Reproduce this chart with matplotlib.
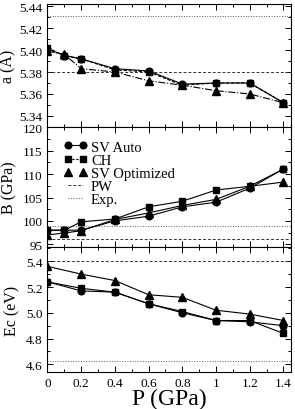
import numpy as np
import matplotlib
matplotlib.use('Agg')
import matplotlib.pyplot as plt
from matplotlib.ticker import MultipleLocator, FormatStrFormatter

plt.rcParams['font.family'] = ['Liberation Serif', 'DejaVu Serif']
plt.rcParams['mathtext.fontset'] = 'stix'

# pressure points
P_full = [0, 0.1, 0.2, 0.4, 0.6, 0.8, 1.0, 1.2, 1.4]
P_ec = [0, 0.2, 0.4, 0.6, 0.8, 1.0, 1.2, 1.4]

# lattice constant a (Angstrom)
a_sv_auto = [5.401, 5.395, 5.392, 5.383, 5.381, 5.369, 5.370, 5.370, 5.352]
a_ch = [5.402, 5.395, 5.392, 5.382, 5.380, 5.368, 5.370, 5.370, 5.352]
a_sv_opt = [5.399, 5.396, 5.383, 5.380, 5.372, 5.368, 5.363, 5.360, 5.352]
a_pw = 5.38
a_exp = 5.431

# bulk modulus B (GPa)
B_sv_auto = [98.0, 98.0, 98.0, 100.0, 101.0, 103.0, 104.0, 107.0, 111.1]
B_ch = [98.0, 98.0, 99.8, 100.4, 103.0, 104.2, 106.6, 107.4, 111.1]
B_sv_opt = [97.0, 97.4, 97.9, 100.3, 101.7, 103.3, 104.6, 107.4, 108.3]
B_pw = 96.1
B_exp = 99.0

# cohesive energy Ec (eV)
E_sv_auto = [5.24, 5.17, 5.16, 5.07, 5.00, 4.94, 4.93, 4.90]
E_ch = [5.24, 5.19, 5.16, 5.07, 5.01, 4.94, 4.94, 4.84]
E_sv_opt = [5.36, 5.30, 5.25, 5.14, 5.12, 5.02, 4.99, 4.94]
E_pw = 5.40
E_exp = 4.625

fig = plt.figure(figsize=(2.95, 4.10), dpi=100)
L, W = 0.161, 0.825
ax1 = fig.add_axes([L, 0.688, W, 0.300])
ax2 = fig.add_axes([L, 0.395, W, 0.293])
ax3 = fig.add_axes([L, 0.090, W, 0.305])

lw = 0.8
for ax in (ax1, ax2, ax3):
    ax.set_xlim(0, 1.444)
    ax.xaxis.set_major_locator(MultipleLocator(0.2))
    ax.xaxis.set_minor_locator(MultipleLocator(0.1))
    ax.tick_params(which='both', direction='in', top=True, right=True,
                   labelsize=9.5, width=0.7)
    ax.tick_params(which='major', length=4)
    ax.tick_params(which='minor', length=2)
    for s in ax.spines.values():
        s.set_linewidth(0.8)

# top panel
ax1.axhline(a_exp, color='0.35', ls=':', lw=0.7)
ax1.axhline(a_pw, color='0.2', ls='--', lw=0.7, dashes=(3, 2))
ax1.plot(P_full, a_sv_auto, '-', marker='o', color='k', ms=4.8, lw=lw)
ax1.plot(P_full, a_ch, '--', marker='s', color='k', ms=4.5, lw=lw, dashes=(3, 1.5))
ax1.plot(P_full, a_sv_opt, '-.', marker='^', color='k', ms=5.5, lw=lw)
ax1.set_ylim(5.33, 5.442)
ax1.yaxis.set_major_locator(MultipleLocator(0.02))
ax1.yaxis.set_minor_locator(MultipleLocator(0.01))
ax1.yaxis.set_major_formatter(FormatStrFormatter('%.2f'))
ax1.set_xticklabels([])
ax1.set_ylabel('a (Å)', fontsize=11.5, labelpad=2)

# middle panel
ax2.axhline(B_pw, color='0.2', ls='--', lw=0.7, dashes=(3, 2))
ax2.axhline(B_exp, color='0.35', ls=':', lw=0.7)
ax2.plot(P_full, B_sv_auto, '-', marker='o', color='k', ms=4.8, lw=lw)
ax2.plot(P_full, B_ch, '-', marker='s', color='k', ms=4.5, lw=lw)
ax2.plot(P_full, B_sv_opt, '-', marker='^', color='k', ms=5.5, lw=lw)
ax2.set_ylim(94.4, 120.1)
ax2.yaxis.set_major_locator(MultipleLocator(5))
ax2.yaxis.set_minor_locator(MultipleLocator(2.5))
ax2.set_xticklabels([])
ax2.set_ylabel('B (GPa)', fontsize=11.5, labelpad=4)

# legend handles
h1, = ax2.plot([], [], '-', marker='o', color='k', ms=4.8, lw=lw)
h2, = ax2.plot([], [], '--', marker='s', color='k', ms=4.5, lw=lw, dashes=(2, 1.5))
h3, = ax2.plot([], [], ls='none', marker='^', color='k', ms=5.5)
h4, = ax2.plot([], [], '--', color='0.2', lw=0.7, dashes=(3, 2))
h5, = ax2.plot([], [], ':', color='0.35', lw=0.7)
ax2.legend([h1, h2, h3, h4, h5], ['SV Auto', 'CH', 'SV Optimized', 'PW', 'Exp.'],
           loc='upper left', bbox_to_anchor=(0.02, 0.985), frameon=False,
           fontsize=10.5, numpoints=2, handlelength=1.6, handletextpad=0.25,
           labelspacing=0.0, borderaxespad=0.4)

# bottom panel
ax3.axhline(E_pw, color='0.2', ls='--', lw=0.7, dashes=(3, 2))
ax3.axhline(E_exp, color='0.35', ls=':', lw=0.7)
ax3.plot(P_ec, E_sv_auto, '-', marker='o', color='k', ms=4.8, lw=lw)
ax3.plot(P_ec, E_ch, '-', marker='s', color='k', ms=4.5, lw=lw)
ax3.plot(P_ec, E_sv_opt, '-', marker='^', color='k', ms=5.5, lw=lw)
ax3.set_ylim(4.54, 5.51)
ax3.yaxis.set_major_locator(MultipleLocator(0.2))
ax3.yaxis.set_minor_locator(MultipleLocator(0.1))
ax3.yaxis.set_major_formatter(FormatStrFormatter('%.1f'))
ax3.xaxis.set_major_formatter(FormatStrFormatter('%g'))
ax3.set_ylabel('Ec (eV)', fontsize=11.5, labelpad=4)
ax3.set_xlabel('P (GPa)', fontsize=17, labelpad=-1)

fig.savefig('out.png', dpi=100)
